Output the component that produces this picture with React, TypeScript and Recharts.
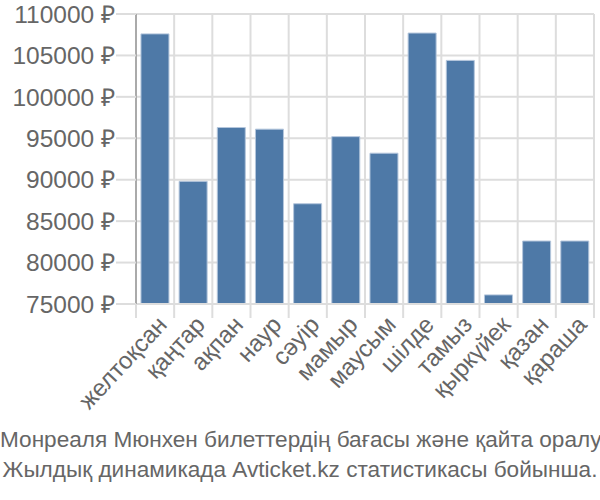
import React from "react";
import { BarChart, Bar, XAxis, YAxis, CartesianGrid } from "recharts";

const months = ["желтоқсан", "қаңтар", "ақпан", "наур", "сәуір", "мамыр", "маусым", "шілде", "тамыз", "қыркүйек", "қазан", "қараша"];
const prices = [107600, 89800, 96300, 96100, 87100, 95200, 93200, 107700, 104400, 76100, 82600, 82600];
const yTicks = [75000, 80000, 85000, 90000, 95000, 100000, 105000, 110000];
const captionLines = [
  "Монреаля Мюнхен билеттердің бағасы және қайта оралу",
  "Жылдық динамикада Avticket.kz статистикасы бойынша.",
];

const data = months.map((m, i) => ({ month: m, price: prices[i] }));

const FONT = "'Liberation Sans', Arial, sans-serif";
const GRID = "#dddddd";
const TEXT = "#666666";

const XTick = (props: any) => {
  const { x, y, payload, index } = props;
  const off = payload.offset || 0;
  const last = index === months.length - 1;
  return (
    <g>
      <line x1={x - off} x2={x - off} y1={y - 8} y2={y + 6} stroke={GRID} strokeWidth={2} />
      {last && <line x1={x + off} x2={x + off} y1={y - 8} y2={y + 6} stroke={GRID} strokeWidth={2} />}
      <text
        x={x + 7}
        y={y + 8}
        transform={`rotate(-47, ${x + 7}, ${y + 8})`}
        textAnchor="end"
        dominantBaseline="central"
        fill={TEXT}
        fontSize={24}
        fontFamily={FONT}
      >
        {payload.value}
      </text>
    </g>
  );
};

const vGen = ({ offset }: any) => {
  const out: number[] = [];
  for (let i = 0; i <= months.length; i++) out.push(offset.left + (i * offset.width) / months.length);
  return out;
};

export default function App() {
  return (
    <div style={{ position: "absolute", left: 0, top: 0, width: 600, height: 500, background: "#fff" }}>
      <BarChart
        width={600}
        height={430}
        data={data}
        margin={{ top: 14, right: 6, left: 0, bottom: 0 }}
        barCategoryGap="13%"
      >
        <CartesianGrid stroke={GRID} strokeWidth={2} verticalCoordinatesGenerator={vGen} />
        <XAxis
          dataKey="month"
          interval={0}
          height={126}
          axisLine={{ stroke: GRID, strokeWidth: 2 }}
          tickLine={false}
          tick={<XTick />}
        />
        <YAxis
          domain={[75000, 110000]}
          ticks={yTicks}
          width={136}
          interval={0}
          axisLine={{ stroke: "#aaaaaa", strokeWidth: 2 }}
          tickLine={{ stroke: GRID, strokeWidth: 2 }}
          tickSize={20}
          tickMargin={1}
          tickFormatter={(v: number) => `${v} ₽`}
          tick={{ fill: TEXT, fontSize: 24.5, fontFamily: FONT }}
          allowDataOverflow
        />
        <Bar dataKey="price" fill="#4e79a7" stroke="#b4c6dc" strokeWidth={1} isAnimationActive={false} />
      </BarChart>
      <div
        style={{
          position: "absolute",
          left: 0,
          top: 425,
          width: 600,
          textAlign: "center",
          fontFamily: FONT,
          fontSize: 22.6,
          lineHeight: "30px",
          color: TEXT,
          whiteSpace: "nowrap",
        }}
      >
        {captionLines.map((l, i) => (
          <div key={i}>{l}</div>
        ))}
      </div>
    </div>
  );
}
